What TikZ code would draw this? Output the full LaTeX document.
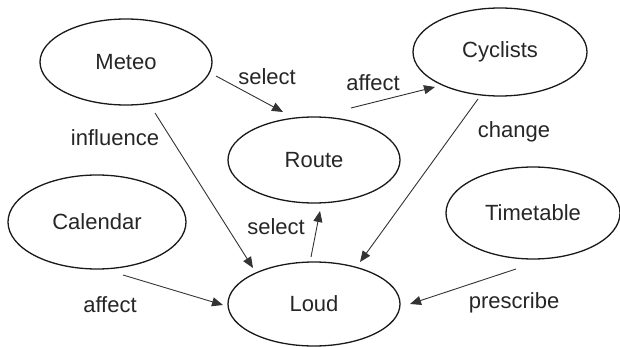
\documentclass[tikz,border=0pt]{standalone}
\usepackage{fontspec}
\setmainfont{Liberation Sans}
\usetikzlibrary{shapes.geometric,arrows.meta,calc}
\tikzset{
  ell/.style={ellipse, draw=black!90, line width=1.3pt, inner sep=0pt, font=\fontsize{22}{26}\selectfont, text=black!85},
  lbl/.style={inner sep=0pt, font=\fontsize{22}{26}\selectfont, text=black!85},
  arr/.style={draw=black!80, line width=0.9pt, -{Triangle[length=11pt,width=9pt]}}
}
\begin{document}
\begin{tikzpicture}[x=1pt,y=-1pt]
\useasboundingbox (0,0) rectangle (620,347);
\node[ell, minimum width=172pt, minimum height=86pt] (meteo) at (126,62) {Meteo};
\node[ell, minimum width=172pt, minimum height=86pt] (route) at (314,160) {Route};
\node[ell, minimum width=174pt, minimum height=88pt] (cyclists) at (500,52) {Cyclists};
\node[ell, minimum width=178pt, minimum height=94pt] (calendar) at (97,222) {Calendar};
\node[ell, minimum width=174pt, minimum height=92pt] (timetable) at (533,213) {Timetable};
\node[ell, minimum width=172pt, minimum height=84pt] (loud) at (314,304) {Loud};

\draw[arr] ($(meteo)+(90,14)$) -- ($(route)+(-31,-48)$);
\draw[arr] ($(meteo)+(29,51)$) -- ($(loud)+(-61,-36)$);
\draw[arr] ($(route)+(37,-52)$) -- ($(cyclists)+(-65,35)$);
\draw[arr] ($(cyclists)+(-22,47)$) -- ($(loud)+(46,-42)$);
\draw[arr] ($(loud)+(-3,-47)$) -- ($(route)+(6,51)$);
\draw[arr] ($(calendar)+(26,53)$) -- ($(loud)+(-91,1)$);
\draw[arr] ($(timetable)+(-17,56)$) -- ($(loud)+(96,0)$);

\node[lbl] (l1) at (267,77) {select};
\node[lbl] (l2) at (115,138) {influence};
\node[lbl] (l3) at (373,83) {affect};
\node[lbl] (l4) at (514,132) {change};
\node[lbl] (l5) at (276,227) {select};
\node[lbl] (l6) at (110,305) {affect};
\node[lbl] (l7) at (514,303) {prescribe};
\end{tikzpicture}
\end{document}
